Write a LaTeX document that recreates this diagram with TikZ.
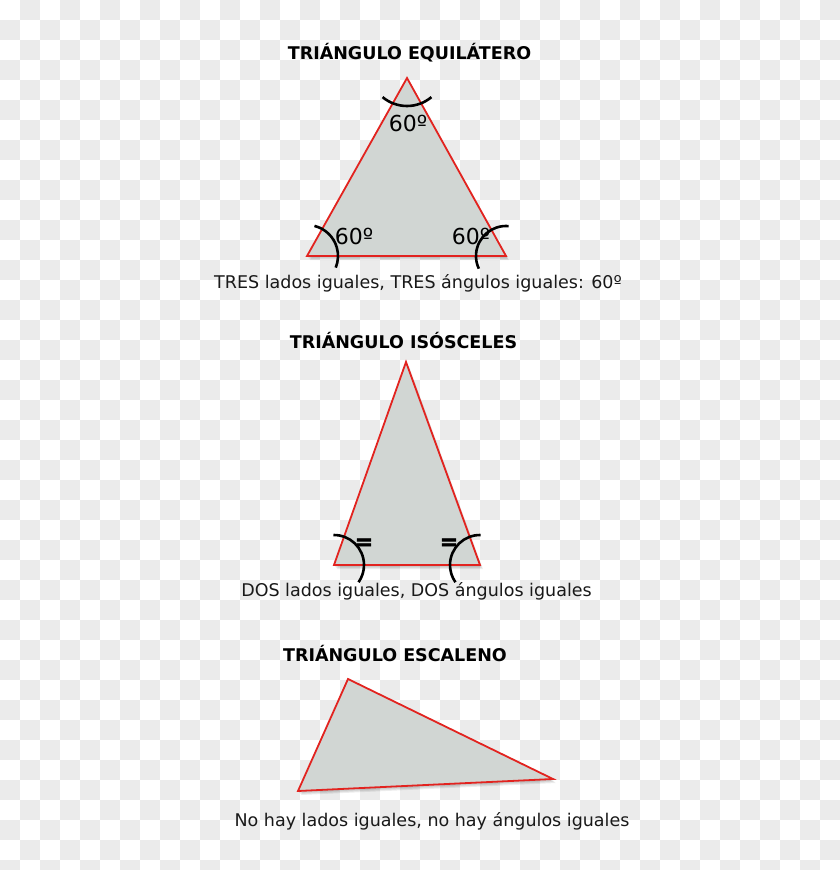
\documentclass[tikz,border=0pt]{standalone}
\usepackage{fontspec}
\setmainfont{DejaVu Sans}
\newfontfamily\heavyfont[FakeBold=2.5]{DejaVu Sans Bold}
\usepackage{tikz}

\begin{document}
\begin{tikzpicture}[x=1pt, y=-1pt, thick]

  % Define Colors
  \definecolor{checkgray}{HTML}{EBEBEB}
  \definecolor{trifill}{HTML}{D1D6D3}
  \definecolor{triline}{HTML}{E2231F}

  % Styles
  \tikzstyle{tri}=[draw=triline, line width=1.8pt, fill=trifill, line join=miter]
  \tikzstyle{trishadow}=[fill=black, opacity=0.07]
  \tikzstyle{angmark}=[draw=black, line width=2.6pt]
  \tikzstyle{titletext}=[anchor=base, inner sep=0pt, font=\bfseries\fontsize{17.5}{20}\selectfont]
  \tikzstyle{caption}=[anchor=base, inner sep=0pt, font=\fontsize{17.5}{20}\selectfont, text=black!90]
  \tikzstyle{anglabel}=[anchor=base, inner sep=0pt, font=\fontsize{22}{24}\selectfont]
  \tikzstyle{eqmark}=[inner sep=0pt, font=\heavyfont\fontsize{22}{24}\selectfont]

  \useasboundingbox (0,0) rectangle (840,870);

  % Background
  \begin{scope}
    \clip (0,0) rectangle (840,870);
    \fill[white] (0,0) rectangle (840,870);
    \foreach \i in {0,...,41}{
      \foreach \j in {0,...,43}{
        \pgfmathtruncatemacro\k{mod(\i+\j,2)}
        \ifnum\k=1 \fill[checkgray] (\i*20,\j*20) rectangle ++(20,20); \fi
      }
    }
  \end{scope}

  % Vertices
  \coordinate (T_1) at (407,78);
  \coordinate (L_1) at (307,256);
  \coordinate (R_1) at (506,256);

  \coordinate (T_2) at (406,362);
  \coordinate (L_2) at (334,565);
  \coordinate (R_2) at (480,565);

  \coordinate (T_3) at (348,679);
  \coordinate (L_3) at (298,791);
  \coordinate (R_3) at (553,779);

  % Triangles
  \foreach \s in {1,2,3}{
    \fill[trishadow] ([shift={(\s,\s+1)}]T_1) -- ([shift={(\s,\s+1)}]L_1) -- ([shift={(\s,\s+1)}]R_1) -- cycle;
    \fill[trishadow] ([shift={(\s,\s+1)}]T_2) -- ([shift={(\s,\s+1)}]L_2) -- ([shift={(\s,\s+1)}]R_2) -- cycle;
    \fill[trishadow] ([shift={(\s,\s+1)}]T_3) -- ([shift={(\s,\s+1)}]L_3) -- ([shift={(\s,\s+1)}]R_3) -- cycle;
  }
  \draw[tri] (T_1) -- (L_1) -- (R_1) -- cycle;
  \draw[tri] (T_2) -- (L_2) -- (R_2) -- cycle;
  \draw[tri] (T_3) -- (L_3) -- (R_3) -- cycle;

  % Angle marks
  \draw[angmark] (T_1) ++(0,-10) ++(50:38) arc[start angle=50, end angle=130, radius=38];
  \draw[angmark] (L_1) ++(-76:31) arc[start angle=-76, end angle=22, radius=31];
  \draw[angmark] (R_1) ++(275:30) arc[start angle=275, end angle=155, radius=30];

  \draw[angmark] (L_2) ++(-91:30) arc[start angle=-91, end angle=35, radius=30];
  \draw[angmark] (R_2) ++(271:30) arc[start angle=271, end angle=145, radius=30];

  % Angle labels
  \node[anglabel] (ang_t) at (408,131) {60º};
  \node[anglabel] (ang_l) at (354,244) {60º};
  \node[anglabel] (ang_r) at (471,244) {60º};

  \node[eqmark] (eq_l) at (364,544) {=};
  \node[eqmark] (eq_r) at (449,544) {=};

  % Titles
  \node[titletext] (title_1) at (409.5,59) {TRIÁNGULO EQUILÁTERO};
  \node[titletext] (title_2) at (403.5,348) {TRIÁNGULO ISÓSCELES};
  \node[titletext] (title_3) at (395,661) {TRIÁNGULO ESCALENO};

  % Captions
  \node[caption] (cap_1) at (418,288) {TRES lados iguales, TRES ángulos iguales: 60º};
  \node[caption] (cap_2) at (416.5,596) {DOS lados iguales, DOS ángulos iguales};
  \node[caption] (cap_3) at (432,826) {No hay lados iguales, no hay ángulos iguales};

\end{tikzpicture}
\end{document}
